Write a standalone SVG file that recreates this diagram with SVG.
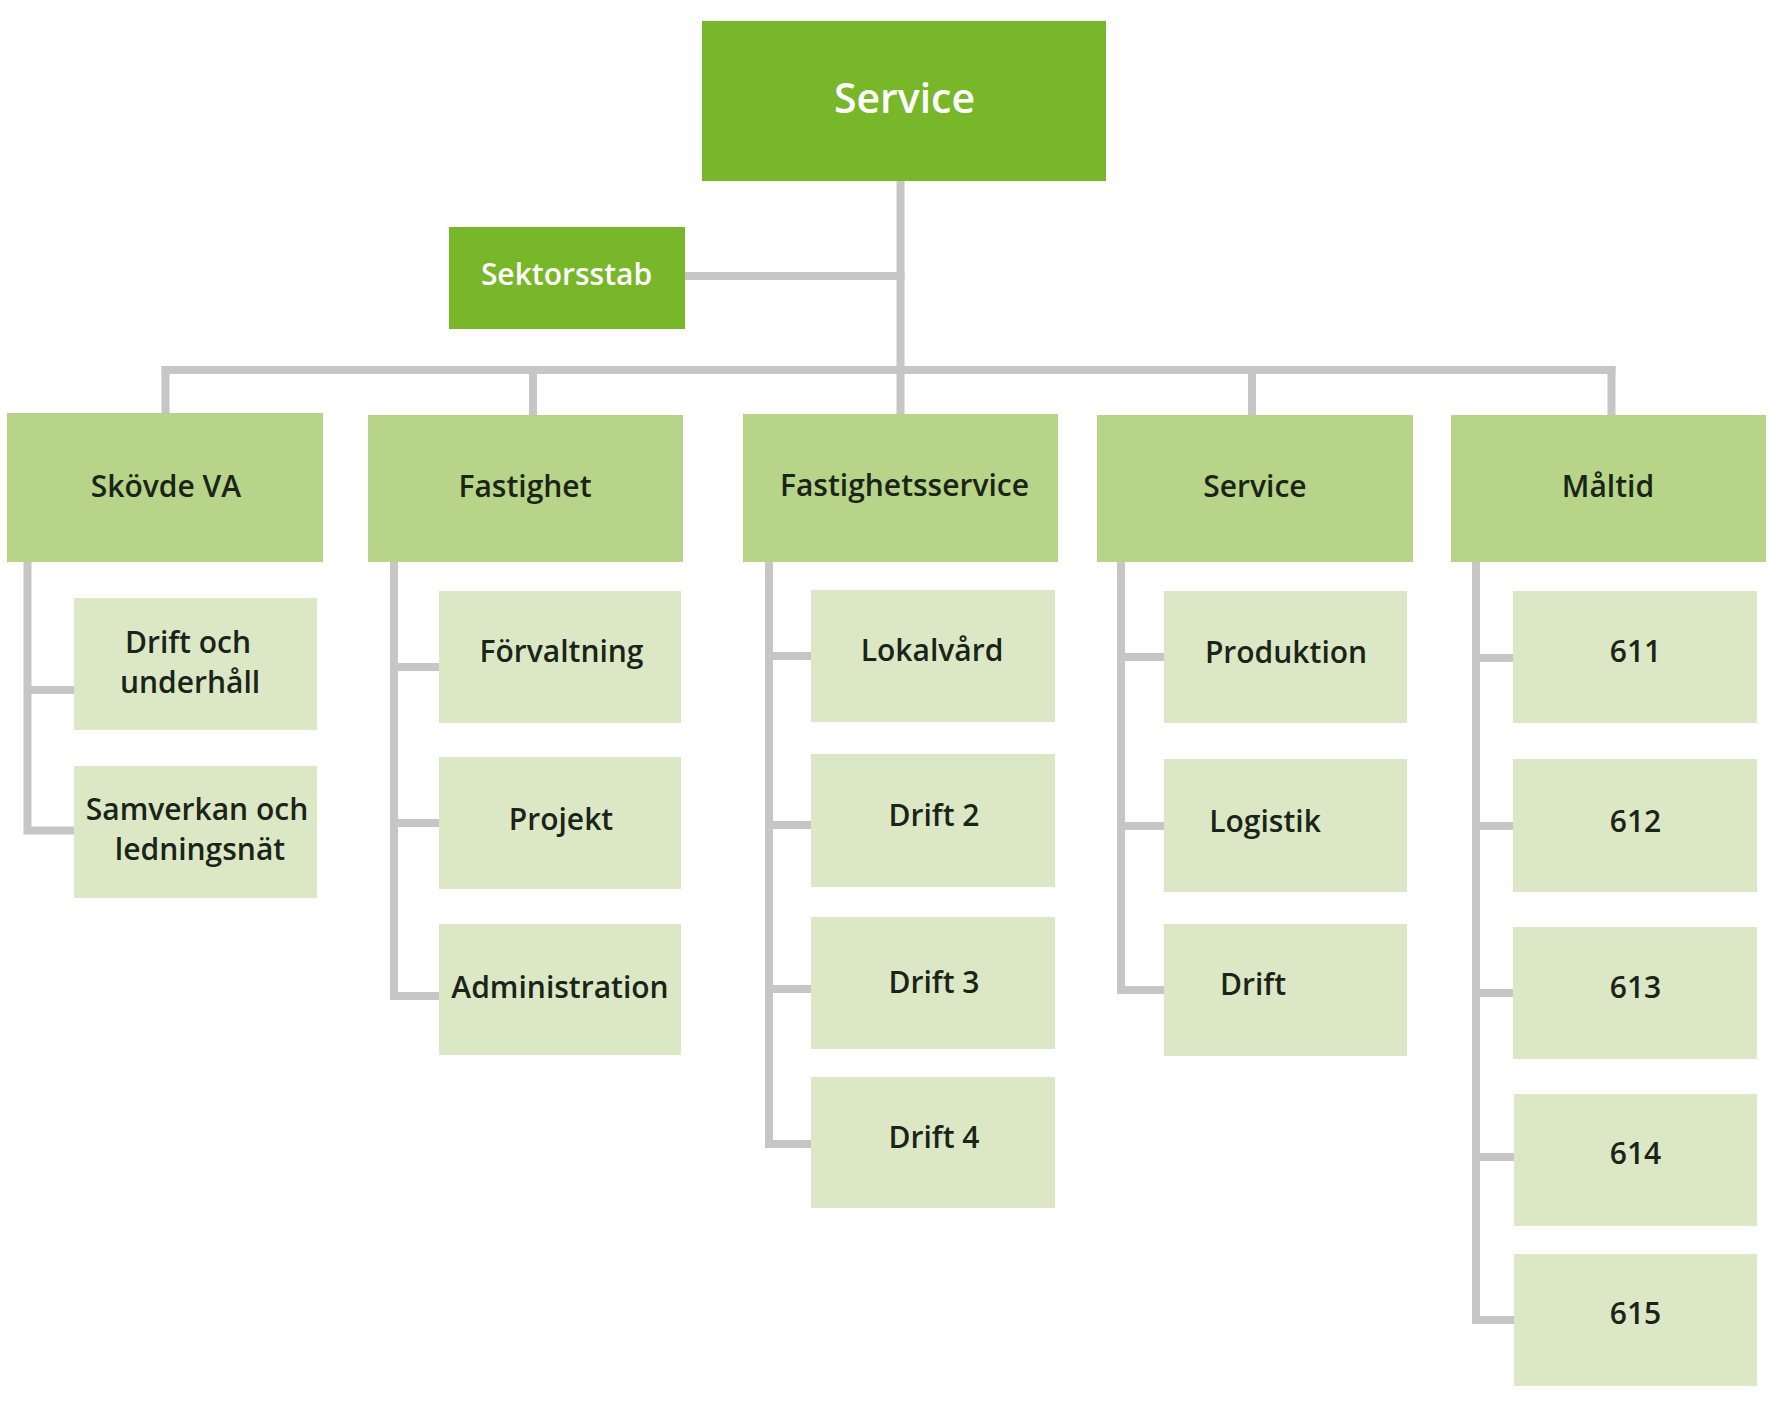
<svg xmlns="http://www.w3.org/2000/svg" width="1775" height="1420" viewBox="0 0 1775 1420">
<style>
.bg{fill:#ffffff}
.top{fill:#79b72a}
.l2{fill:#b7d488}
.l3{fill:#dce8c5}
.con{fill:none;stroke:#c6c6c6;stroke-width:8;stroke-linecap:square;stroke-linejoin:miter}
text{font-family:"Open Sans","Noto Sans","Liberation Sans",sans-serif;font-weight:600;font-size:30px;text-anchor:middle;fill:#1a2418}
.w{fill:#ffffff}
.big{font-size:41px}
</style>
<rect class="bg" x="0" y="0" width="1775" height="1420"/>
<g id="connectors">
<path class="con" d="M900.5,181 V414"/>
<path class="con" d="M685,276 H900.5"/>
<path class="con" d="M165.5,370 H1611.5"/>
<path class="con" d="M165.5,370 V413 M533,370 V414 M1252,370 V414 M1611.5,370 V414"/>
<path class="con" d="M27.5,562 V830.5 H74 M27.5,690 H74"/>
<path class="con" d="M394,562 V996 H439 M394,667 H439 M394,823 H439"/>
<path class="con" d="M769,562 V1144 H811 M769,656 H811 M769,825 H811 M769,989 H811"/>
<path class="con" d="M1121,562 V990 H1164 M1121,657 H1164 M1121,826 H1164"/>
<path class="con" d="M1476,562 V1320 H1513 M1476,658 H1513 M1476,826 H1513 M1476,993 H1513 M1476,1157 H1513"/>
</g>
<g id="n-service-top"><rect class="top" x="702" y="21" width="404" height="160"/><text class="w big" x="904.5" y="113">Service</text></g>
<g id="n-sektorsstab"><rect class="top" x="449" y="227" width="236" height="102"/><text class="w" x="566.5" y="285">Sektorsstab</text></g>
<g id="n-skovde-va"><rect class="l2" x="7" y="413" width="316" height="149"/><text x="166" y="497">Skövde VA</text></g>
<g id="n-fastighet"><rect class="l2" x="368" y="415" width="315" height="147"/><text x="525" y="497">Fastighet</text></g>
<g id="n-fastighetsservice"><rect class="l2" x="743" y="414" width="315" height="148"/><text x="904.5" y="496">Fastighetsservice</text></g>
<g id="n-service"><rect class="l2" x="1097" y="415" width="316" height="147"/><text x="1255" y="497">Service</text></g>
<g id="n-maltid"><rect class="l2" x="1451" y="415" width="315" height="147"/><text x="1608" y="497">Måltid</text></g>
<g id="n-drift-underhall"><rect class="l3" x="74" y="598" width="243" height="132"/><text x="188" y="653">Drift och</text><text x="190" y="693">underhåll</text></g>
<g id="n-samverkan"><rect class="l3" x="74" y="766" width="243" height="132"/><text x="197" y="820">Samverkan och</text><text x="200" y="860">ledningsnät</text></g>
<g id="n-forvaltning"><rect class="l3" x="439" y="591" width="242" height="132"/><text x="561.5" y="662">Förvaltning</text></g>
<g id="n-projekt"><rect class="l3" x="439" y="757" width="242" height="132"/><text x="561" y="830">Projekt</text></g>
<g id="n-administration"><rect class="l3" x="439" y="924" width="242" height="131"/><text x="560" y="998">Administration</text></g>
<g id="n-lokalvard"><rect class="l3" x="811" y="590" width="244" height="132"/><text x="932" y="661">Lokalvård</text></g>
<g id="n-drift2"><rect class="l3" x="811" y="754" width="244" height="133"/><text x="934" y="826">Drift 2</text></g>
<g id="n-drift3"><rect class="l3" x="811" y="917" width="244" height="132"/><text x="934" y="993">Drift 3</text></g>
<g id="n-drift4"><rect class="l3" x="811" y="1077" width="244" height="131"/><text x="934" y="1148">Drift 4</text></g>
<g id="n-produktion"><rect class="l3" x="1164" y="591" width="243" height="132"/><text x="1286" y="663">Produktion</text></g>
<g id="n-logistik"><rect class="l3" x="1164" y="759" width="243" height="133"/><text x="1265" y="832">Logistik</text></g>
<g id="n-drift"><rect class="l3" x="1164" y="924" width="243" height="132"/><text x="1253" y="995">Drift</text></g>
<g id="n-611"><rect class="l3" x="1513" y="591" width="244" height="132"/><text x="1635.5" y="662">611</text></g>
<g id="n-612"><rect class="l3" x="1513" y="759" width="244" height="133"/><text x="1635.5" y="832">612</text></g>
<g id="n-613"><rect class="l3" x="1513" y="927" width="244" height="132"/><text x="1635.5" y="998">613</text></g>
<g id="n-614"><rect class="l3" x="1514" y="1094" width="243" height="132"/><text x="1635.5" y="1164">614</text></g>
<g id="n-615"><rect class="l3" x="1514" y="1254" width="243" height="132"/><text x="1635.5" y="1324">615</text></g>
</svg>
